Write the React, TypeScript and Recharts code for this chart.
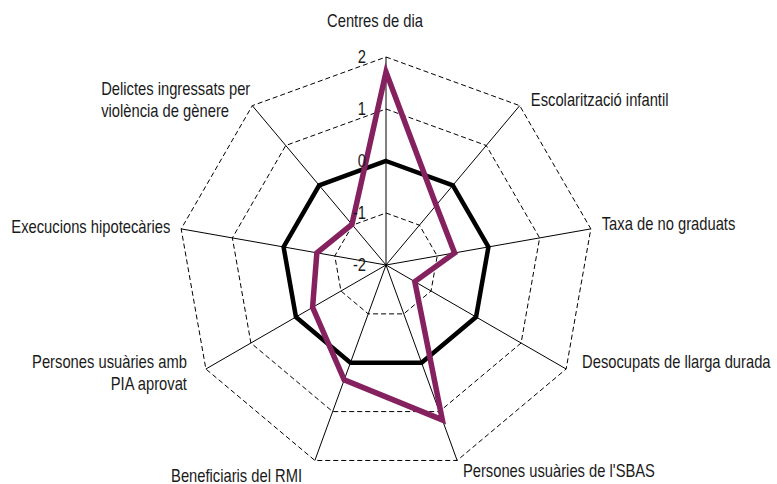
import { RadarChart, Radar, PolarGrid, PolarAngleAxis, PolarRadiusAxis } from "recharts";

const categories = [
    "Centres de dia",
    "Escolarització infantil",
    "Taxa de no graduats",
    "Desocupats de llarga durada",
    "Persones usuàries de l'SBAS",
    "Beneficiaris del RMI",
    "Persones usuàries amb PIA aprovat",
    "Execucions hipotecàries",
    "Delictes ingressats per violència de gènere",
];

// indicator values (standardised)
const indicatorValues = [1.71, -0.5, -0.66, -1.36, 1.17, 0.35, -0.37, -0.65, -0.98];
// reference line at 0
const referenceValues = [0, 0, 0, 0, 0, 0, 0, 0, 0];

const radiusTicks = [-2, -1, 0, 1, 2];

const data = categories.map((name, i) => ({
    name,
    value: indicatorValues[i],
    ref: referenceValues[i],
}));

// no narrow font installed, so squeeze Liberation Sans horizontally
const FONT = "'Liberation Sans', Arial, sans-serif";
const NARROW = 0.82;

// label placement around the outer ring (anchor, offsets, line breaks)
const labelLayout = [
    { anchor: "middle", dx: -11, dy: -22, lines: ["Centres de dia"] },
    { anchor: "start", dx: 6, dy: 6.5, lines: ["Escolarització infantil"] },
    { anchor: "start", dx: 3, dy: 2.5, lines: ["Taxa de no graduats"] },
    { anchor: "start", dx: 9, dy: -5, lines: ["Desocupats de llarga durada"] },
    { anchor: "start", dx: 3, dy: 9, lines: ["Persones usuàries de l'SBAS"] },
    { anchor: "end", dx: -10, dy: 14, lines: ["Beneficiaris del RMI"] },
    { anchor: "end", dx: -12, dy: -5, lines: ["Persones usuàries amb", "PIA aprovat"] },
    { anchor: "end", dx: -3, dy: 5.5, lines: ["Execucions hipotecàries"] },
    { anchor: "start", dx: -146, dy: -4.5, lines: ["Delictes ingressats per", "violència de gènere"] },
];

const AngleTick = (props: any) => {
    const { x, y, index } = props;
    const l = labelLayout[index];
    if (!l) return null;
    return (
        <g transform={`translate(${x + l.dx},${y + l.dy}) scale(${NARROW},1)`}>
            <text x={0} y={0} textAnchor={l.anchor} fontFamily={FONT} fontSize={18} fill="#1a1a1a">
                {l.lines.map((line, i) => (
                    <tspan key={i} x={0} dy={i === 0 ? 0 : 22}>
                        {line}
                    </tspan>
                ))}
            </text>
        </g>
    );
};

const RadiusTick = (props: any) => {
    const { x, y, payload } = props;
    return (
        <g transform={`translate(${x - 20},${y}) scale(${NARROW},1)`}>
            <text x={0} y={0} dy="0.35em" textAnchor="end" fontFamily={FONT} fontSize={18} fill="#1a1a1a">
                {payload.value}
            </text>
        </g>
    );
};

export default function App() {
    return (
        <div style={{ position: "absolute", left: 0, top: 0, width: 777, height: 484, background: "#fff" }}>
            <RadarChart
                width={777}
                height={484}
                data={data}
                cx={386}
                cy={265}
                outerRadius={208}
                margin={{ top: 0, right: 0, bottom: 0, left: 0 }}
            >
                {/* solid spokes */}
                <PolarGrid gridType="polygon" polarRadius={[]} stroke="#000" strokeWidth={1} strokeOpacity={1} />
                {/* dashed rings */}
                <PolarGrid
                    gridType="polygon"
                    radialLines={false}
                    polarRadius={[52, 104, 156, 208]}
                    stroke="#000"
                    strokeWidth={1}
                    strokeOpacity={1}
                    strokeDasharray="5 3"
                />
                <PolarAngleAxis dataKey="name" tick={<AngleTick />} tickLine={false} axisLine={false} />
                <PolarRadiusAxis
                    angle={90}
                    type="number"
                    domain={[-2, 2]}
                    ticks={radiusTicks}
                    tickCount={5}
                    tick={<RadiusTick />}
                    axisLine={false}
                    tickLine={false}
                />
                <Radar dataKey="ref" stroke="#000" strokeWidth={4.5} fill="none" fillOpacity={0} isAnimationActive={false} />
                <Radar dataKey="value" stroke="#85215f" strokeWidth={5.5} fill="none" fillOpacity={0} isAnimationActive={false} />
            </RadarChart>
        </div>
    );
}
